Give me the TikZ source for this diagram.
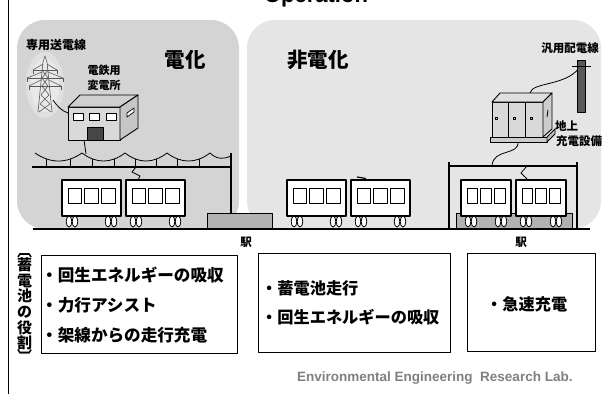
\documentclass[tikz,border=0pt]{standalone}
\usepackage{fontspec}
\setmainfont{Liberation Sans}
\newfontfamily\jp{Noto Sans CJK JP}
\usepackage{tikz}

\begin{document}
\begin{tikzpicture}[x=1pt,y=-1pt,line join=round,
  jtext/.style={inner sep=0pt,font=\jp\bfseries\fontsize{#1}{#1}\selectfont},
  carbody/.style={draw,line width=1.1pt,fill=white},
  carwin/.style={draw,line width=0.9pt,fill=white},
  wheel/.style={draw,line width=0.8pt,fill=white},
  textbox/.style={draw,line width=0.9pt,fill=white,inner sep=0pt},
  tower/.style={draw=gray!70!black,line width=0.6pt},
  post/.style={line width=2.6pt},
  wire/.style={line width=0.8pt}]
\useasboundingbox (0,0) rectangle (606,394);
\fill[gray!34,rounded corners=28pt] (17,20) rectangle (239,229);
\fill[gray!20,rounded corners=28pt] (247,20) rectangle (601,229);
\draw[line width=1.4pt] (8.5,0) -- (8.5,394);
\node[anchor=base,font=\bfseries\fontsize{22}{22}\selectfont] (title) at (316,2) {Operation};

% transmission tower
\fill[white,opacity=.3] (45,85) ellipse [x radius=19pt,y radius=33pt];
\fill[white,opacity=.3] (45,85) ellipse [x radius=14pt,y radius=27pt];
\draw[tower] (38,112) -- (43,62) -- (45,56) -- (47,62) -- (52,112);
\draw[tower] (33,70) -- (57,70) (27,78) -- (63,78) (29,86) -- (61,86);
\draw[tower] (33,70) -- (43,64) (57,70) -- (47,64) (27,78) -- (42,72) (63,78) -- (48,72) (29,86) -- (41,80) (61,86) -- (49,80);
\foreach \p in {(33,70),(57,70),(27,78),(63,78),(29,86),(61,86)}
  \draw[tower] \p -- ++(0,4);
\draw[tower] (42,70) -- (48,78) -- (42,86) -- (49,95) -- (40,104) -- (51,112) (48,70) -- (42,78) -- (48,86) -- (41,95) -- (50,104) -- (39,112);
\coordinate (twr-foot) at (53,100);
\coordinate (sub-side) at (68,113);
\draw[wire] (twr-foot) .. controls (57,106) and (62,111) .. (sub-side);

% substation
\coordinate (sub-feed) at (84,140);
\coordinate (mess-feed) at (86,154);
\draw[wire] (sub-feed) -- (mess-feed);
\draw[fill=gray!30,line width=0.9pt] (68,107) rectangle (120,140);
\draw[fill=gray!38,line width=0.9pt] (68,107) -- (80,95) -- (138,95) -- (120,107) -- cycle;
\draw[fill=gray!45,line width=0.9pt] (120,107) -- (138,95) -- (138,128) -- (120,140) -- cycle;
\foreach \wx in {73,89,106}
  \draw[fill=white,line width=0.8pt] (\wx,113) rectangle ++(10,7);
\draw[fill=black!72,line width=0.8pt] (87,127) rectangle (103,140);
\draw[fill=white,line width=0.7pt] (127,117) -- (134,112) -- (134,108) -- (127,113) -- cycle;

% catenary
\foreach \a/\b in {35/82,82/125,125/167,167/210}{
  \draw[wire] (\a,153) .. controls ({\a+(\b-\a)/3},163.7) and ({\a+2*(\b-\a)/3},163.7) .. (\b,153);
  \draw[wire] ({\a+(\b-\a)/4},159) -- ({\a+(\b-\a)/4},167);
  \draw[wire] ({\a+3*(\b-\a)/4},159) -- ({\a+3*(\b-\a)/4},167);
}
\draw[wire] (210,153) .. controls (217,160) and (225,159) .. (231,156);
\draw[line width=1.3pt] (32,167) -- (231,167);

% platforms and posts
\draw[fill=gray!60,line width=0.9pt] (207,213) rectangle (272,229);
\draw[fill=gray!60,line width=0.9pt] (456,213) rectangle (572,229);
\draw[post] (231,153) -- (231,213);
\draw[post] (449,162) -- (449,229);
\draw[post] (577,162) -- (577,229);
\draw[line width=1.2pt] (449,166) -- (577,166);

% charging cabinet and pole
\coordinate (cab-top) at (530,93);
\coordinate (pole-arm) at (579,68);
\coordinate (cab-foot) at (518,142);
\coordinate (bar-feed) at (492,166);
\draw[wire] (cab-top) .. controls (532,82) and (566,86) .. (pole-arm);
\draw[wire] (cab-foot) .. controls (519,156) and (493,148) .. (bar-feed);
\draw[fill=gray!70!black,line width=0.7pt] (577,60) rectangle (585,112);
\draw[line width=0.9pt] (572,66) -- (591,66);
\draw[fill=gray!40,line width=0.8pt] (490,137) rectangle (547,142);
\draw[fill=gray!50,line width=0.8pt] (547,137) -- (555,129) -- (555,134) -- (547,142) -- cycle;
\draw[fill=gray!30,line width=0.9pt] (492,102) rectangle (543,137);
\draw[fill=gray!25,line width=0.9pt] (492,102) -- (500,93) -- (552,93) -- (543,102) -- cycle;
\draw[fill=gray!40,line width=0.9pt] (543,102) -- (552,93) -- (552,129) -- (543,137) -- cycle;
\draw[line width=1pt] (508,102) -- (508,137) (525,102) -- (525,137);
\foreach \mx in {495,513,530}
  \draw[line width=0.7pt] (\mx,117) rectangle ++(2,2);
\draw[line width=0.8pt] (547,117) -- (548,110);

% trains
\foreach \cx/\cw in {62/59,126/59,287/59,351/59,461/50,516/50}{
  \draw[carbody] (\cx,180) rectangle ++(\cw,36);
  \pgfmathsetmacro\ww{(\cw-18)/3}
  \foreach \k in {0,1,2}
    \draw[carwin] ({\cx+6+\k*(\ww+3)},188) rectangle ++(\ww,15);
  \foreach \u in {7,13}{
    \draw[wheel] (\cx+\u,221.5) ellipse [x radius=2.8pt,y radius=5.5pt];
    \draw[wheel] (\cx+\cw-\u,221.5) ellipse [x radius=2.8pt,y radius=5.5pt];
  }
}
\draw[wire] (136,167) -- (132,172) -- (140,176) -- (138,180);
\draw[line width=1.2pt] (357,177) -- (366,178.5);
\draw[wire] (527,166) -- (521,173) -- (528,180);
\draw[line width=2pt] (33,229) -- (590,229);

% labels
\node[jtext=12,anchor=west] (line-label) at (26,45) {専用送電線};
\node[jtext=11] (sub-label1) at (104,70) {電鉄用};
\node[jtext=11] (sub-label2) at (104,85) {変電所};
\node[jtext=20.5] (elec) at (185,60) {電化};
\node[jtext=20.5] (nonelec) at (318,60) {非電化};
\node[jtext=11.5] (dist-label) at (570,48) {汎用配電線};
\node[jtext=11.5,anchor=west] (chg-label1) at (555,126) {地上};
\node[jtext=11.5,anchor=west] (chg-label2) at (556,141) {充電設備};
\node[jtext=11.5] (sta1) at (246,242) {駅};
\node[jtext=11.5] (sta2) at (521,242) {駅};

% roles of the battery
\node[textbox,minimum width=196pt,minimum height=98pt] (role1) at (139,304) {};
\node[textbox,minimum width=192pt,minimum height=99pt] (role2) at (354,302.5) {};
\node[textbox,minimum width=128pt,minimum height=98pt] (role3) at (531,302) {};
\node[jtext=16.6,anchor=west] (r1a) at (41,275) {・回生エネルギーの吸収};
\node[jtext=16.6,anchor=west] (r1b) at (41,305) {・力行アシスト};
\node[jtext=16.6,anchor=west] (r1c) at (41,335) {・架線からの走行充電};
\node[jtext=16.2,anchor=west] (r2a) at (261,288.5) {・蓄電池走行};
\node[jtext=16.2,anchor=west] (r2b) at (261,317) {・回生エネルギーの吸収};
\node[jtext=16.2,anchor=west] (r3a) at (486,304) {・急速充電};
\node[jtext=15] (brk-top) at (24.5,255.5) {︹};
\foreach \c [count=\i] in {蓄,電,池,の,役,割}
  \node[jtext=15] (role-\i) at (24.5,{249.4+15.6*\i}) {\c};
\node[jtext=15] (brk-bot) at (24.5,356) {︺};
\node[anchor=west,inner sep=0pt,text=gray,font=\bfseries\fontsize{13.5}{13.5}\selectfont] (lab) at (297,378) {Environmental Engineering\ \ Research Lab.};
\end{tikzpicture}
\end{document}
